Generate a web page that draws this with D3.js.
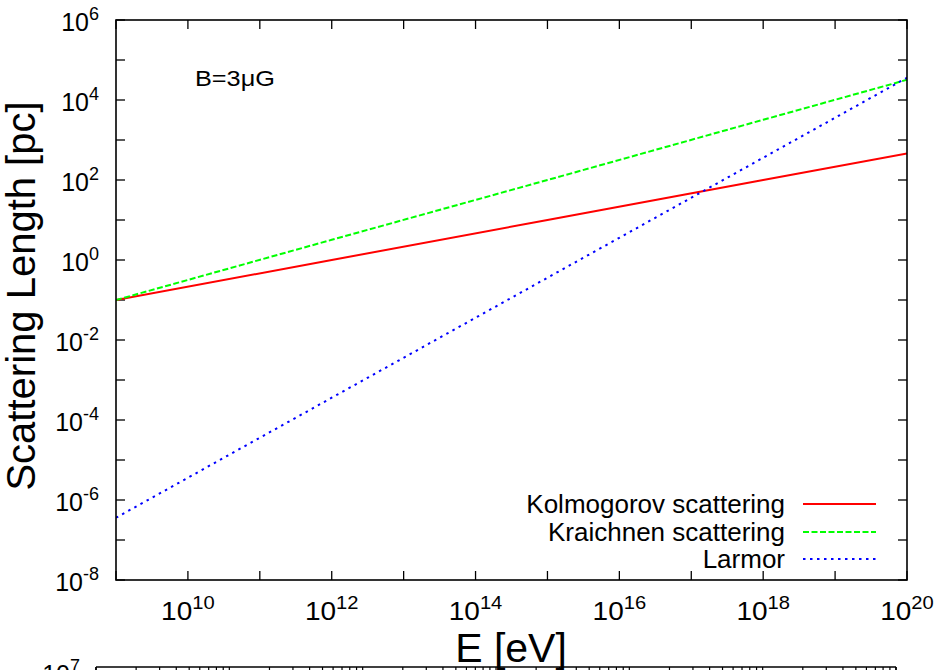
<!DOCTYPE html>
<html>
<head>
<meta charset="utf-8">
<script src="https://cdn.jsdelivr.net/npm/d3@7"></script>
<style>
  html, body { margin: 0; padding: 0; background: #fff; }
  svg { display: block; }
  text { font-family: "Liberation Sans", Arial, Helvetica, sans-serif; fill: #000; }
</style>
</head>
<body>
<div id="chart"></div>
<script>
// ---- data ----
const energy      = [1e9, 1e12, 1e15, 1e18, 1e20];          // E [eV]
const kolmogorov  = [0.1, 1.0, 10, 100, 460];                // pc
const kraichnan   = [0.1, 3.2, 100, 3200, 32000];            // pc
const larmor      = [3.6e-7, 3.6e-4, 0.36, 360, 36000];      // pc
const seriesNames = ["Kolmogorov scattering", "Kraichnen scattering", "Larmor"];
const seriesColors = ["#ff0000", "#00ff00", "#0000ff"];
const xTickExps   = [9,10,11,12,13,14,15,16,17,18,19,20];
const xLabelExps  = [10,12,14,16,18,20];
const yTickExps   = [-8,-7,-6,-5,-4,-3,-2,-1,0,1,2,3,4,5,6];
const yLabelExps  = [-8,-6,-4,-2,0,2,4,6];
const annotation  = "B=3\u03BCG";
const nextPanelTopLabelExp = 7;

// ---- layout ----
const W = 937, H = 670;
const m = {left: 116, right: 907, top: 20, bottom: 580};

const svg = d3.select("#chart").append("svg").attr("width", W).attr("height", H);

const x = d3.scaleLog().domain([1e9, 1e20]).range([m.left, m.right]);
const y = d3.scaleLog().domain([1e-8, 1e6]).range([m.bottom, m.top]);

// clip
svg.append("clipPath").attr("id", "clip").append("rect")
  .attr("x", m.left).attr("y", m.top)
  .attr("width", m.right - m.left).attr("height", m.bottom - m.top);

// tick marks (inward, mirrored)
const tickLen = 9;
const ticks = svg.append("g").attr("stroke", "#000").attr("stroke-width", 1.3);
xTickExps.forEach(e => {
  const px = x(Math.pow(10, e));
  ticks.append("line").attr("x1", px).attr("x2", px).attr("y1", m.bottom).attr("y2", m.bottom - tickLen);
  ticks.append("line").attr("x1", px).attr("x2", px).attr("y1", m.top).attr("y2", m.top + tickLen);
});
yTickExps.forEach(e => {
  const py = y(Math.pow(10, e));
  ticks.append("line").attr("x1", m.left).attr("x2", m.left + tickLen).attr("y1", py).attr("y2", py);
  ticks.append("line").attr("x1", m.right).attr("x2", m.right - tickLen).attr("y1", py).attr("y2", py);
});

// power-of-ten label helper
function powLabel(g, px, py, exp, anchor, base, sup, sx) {
  const t = g.append("text")
    .attr("transform", `translate(${px},${py}) scale(${sx},1)`)
    .attr("text-anchor", anchor);
  t.append("tspan").attr("font-size", base).text("10");
  t.append("tspan").attr("font-size", sup).attr("dy", -base * 0.45).text(String(exp));
  return t;
}

const labels = svg.append("g");
yLabelExps.forEach(e => {
  powLabel(labels, 99, y(Math.pow(10, e)) + 11, e, "end", 25, 18, 1.0);
});
xLabelExps.forEach(e => {
  powLabel(labels, x(Math.pow(10, e)), 620, e, "middle", 25, 18, 1.12);
});

// curves
const lineGen = d3.line().x(d => x(d[0])).y(d => y(d[1]));
const allSeries = [kolmogorov, kraichnan, larmor];
const dashes = [null, "6,2.5", "2.5,4.5"];
const plotG = svg.append("g").attr("clip-path", "url(#clip)");
allSeries.forEach((s, i) => {
  plotG.append("path")
    .datum(energy.map((e, k) => [e, s[k]]))
    .attr("d", lineGen)
    .attr("fill", "none")
    .attr("stroke", seriesColors[i])
    .attr("stroke-width", 2)
    .attr("stroke-dasharray", dashes[i]);
});

// frame
svg.append("rect")
  .attr("x", m.left).attr("y", m.top)
  .attr("width", m.right - m.left).attr("height", m.bottom - m.top)
  .attr("fill", "none").attr("stroke", "#000").attr("stroke-width", 1.6);

// legend
const legY = [504, 532, 559];
const leg = svg.append("g");
seriesNames.forEach((n, i) => {
  leg.append("text")
    .attr("x", 785).attr("y", legY[i] + 9)
    .attr("text-anchor", "end")
    .attr("font-size", 26)
    .text(n);
  leg.append("line")
    .attr("x1", 803).attr("x2", 876)
    .attr("y1", legY[i]).attr("y2", legY[i])
    .attr("stroke", seriesColors[i]).attr("stroke-width", 2)
    .attr("stroke-dasharray", dashes[i]);
});

// annotation
svg.append("text")
  .attr("transform", "translate(195,86) scale(1.15,1)")
  .attr("font-size", 22)
  .text(annotation);

// axis titles
svg.append("text")
  .attr("transform", "translate(35,296) rotate(-90)")
  .attr("text-anchor", "middle")
  .attr("font-size", 40)
  .text("Scattering Length [pc]");
svg.append("text")
  .attr("x", 511).attr("y", 662)
  .attr("text-anchor", "middle")
  .attr("font-size", 41)
  .text("E [eV]");

// top edge of the next panel (cut off by the page)
const x2 = d3.scaleLog().domain([1e14, 1e20]).range([96, 896]);
const p2 = svg.append("g");
const p2Top = 667;
const minorTicks = [];
for (let d = 14; d < 20; d++) for (let k = 1; k <= 9; k++) minorTicks.push(k * Math.pow(10, d));
minorTicks.push(1e20);
p2.selectAll("line.t").data(minorTicks).enter().append("line")
  .attr("x1", d => x2(d)).attr("x2", d => x2(d))
  .attr("y1", p2Top).attr("y2", p2Top + 9)
  .attr("stroke", "#000").attr("stroke-width", 1.2);
p2.append("line").attr("x1", 96).attr("x2", 896).attr("y1", p2Top).attr("y2", p2Top)
  .attr("stroke", "#000").attr("stroke-width", 1.6);
p2.append("line").attr("x1", 96).attr("x2", 96).attr("y1", p2Top).attr("y2", H)
  .attr("stroke", "#000").attr("stroke-width", 1.6);
p2.append("line").attr("x1", 896).attr("x2", 896).attr("y1", p2Top).attr("y2", H)
  .attr("stroke", "#000").attr("stroke-width", 1.6);
powLabel(p2, 80, p2Top + 16, nextPanelTopLabelExp, "end", 25, 18, 1.0);
</script>
</body>
</html>
